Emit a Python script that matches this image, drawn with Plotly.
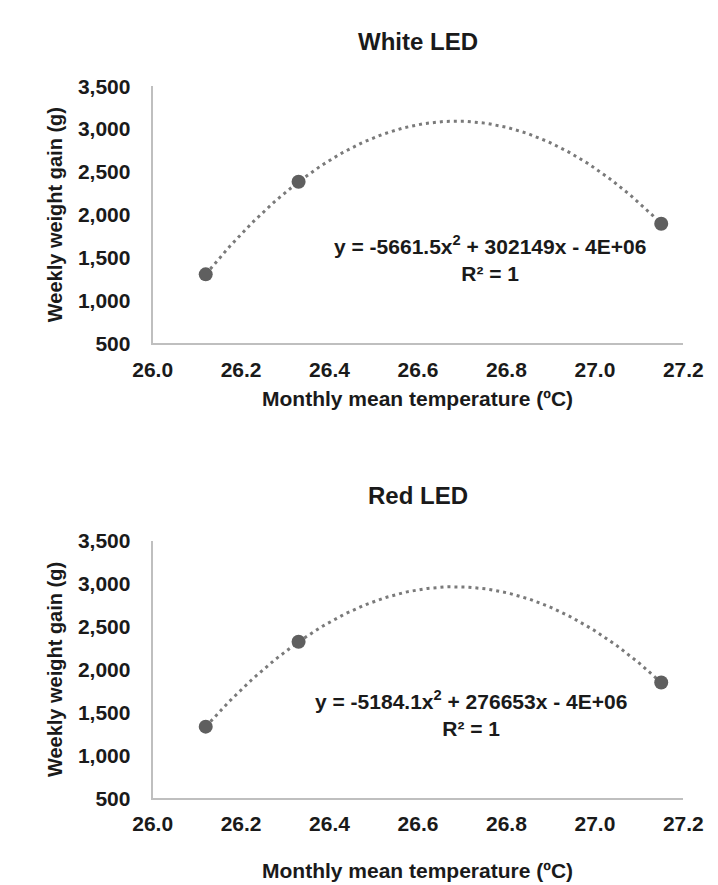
import numpy as np
import plotly.graph_objects as go

# ---- data ----
temperature = [26.12, 26.33, 27.15]
white_gain = [1305, 2385, 1895]
red_gain = [1335, 2325, 1850]

titles = ["White LED", "Red LED"]
equations = ["y = -5661.5x<sup>2</sup> + 302149x - 4E+06<br>R² = 1",
             "y = -5184.1x<sup>2</sup> + 276653x - 4E+06<br>R² = 1"]
x_title = "Monthly mean temperature (ºC)"
y_title = "Weekly weight gain (g)"

W, H = 718, 885
FONT = "Liberation Sans, Arial, sans-serif"
TXT = "#1a1a1a"
AXIS = "#bfbfbf"

fig = go.Figure()

x0_px, x1_px = 132, 694
panels = [
    dict(top=68, bottom=332, title_y=22, xt_y=389, eq=(26.762, 1493)),
    dict(top=535, bottom=799, title_y=488, xt_y=873, eq=(26.72, 1493)),
]
series = [white_gain, red_gain]

for i, (p, ys) in enumerate(zip(panels, series)):
    xa = "x" if i == 0 else "x2"
    ya = "y" if i == 0 else "y2"
    # quadratic trendline fitted to the three points
    coef = np.polyfit(temperature, ys, 2)
    xs = np.linspace(temperature[0], temperature[-1], 200)
    fig.add_trace(go.Scatter(x=xs, y=np.polyval(coef, xs), mode="lines",
                             line=dict(color="#7a7a7a", width=3, dash="3px,4px"),
                             xaxis=xa, yaxis=ya, showlegend=False, hoverinfo="skip"))
    fig.add_trace(go.Scatter(x=temperature, y=ys, mode="markers",
                             marker=dict(color="#5f5f5f", size=14),
                             xaxis=xa, yaxis=ya, showlegend=False))

    dom_y = [1 - p["bottom"] / H, 1 - p["top"] / H]
    axkey = "" if i == 0 else "2"
    fig.update_layout(**{
        "xaxis" + axkey: dict(domain=[x0_px / W, x1_px / W], range=[26.0, 27.2], dtick=0.2,
                              tickformat=".1f", showgrid=False, zeroline=False,
                              showline=True, linecolor=AXIS, linewidth=2, ticks="",
                              tickfont=dict(family=FONT, size=21, color=TXT, weight="bold"),
                              ticklabelstandoff=6, anchor=ya, fixedrange=True),
        "yaxis" + axkey: dict(domain=dom_y, range=[500, 3500], dtick=500, tickformat=",",
                              showgrid=False, zeroline=False, showline=True,
                              linecolor=AXIS, linewidth=2, ticks="",
                              tickfont=dict(family=FONT, size=21, color=TXT, weight="bold"),
                              ticklabelstandoff=16, anchor=xa, fixedrange=True),
    })
    fig.add_annotation(text="<b>" + titles[i] + "</b>", x=(x0_px + x1_px) / 2 / W,
                       y=1 - p["title_y"] / H, xref="paper", yref="paper",
                       showarrow=False, font=dict(family=FONT, size=24, color=TXT),
                       xanchor="center", yanchor="middle")
    fig.add_annotation(text="<b>" + x_title + "</b>", x=(x0_px + x1_px) / 2 / W,
                       y=1 - p["xt_y"] / H, xref="paper", yref="paper",
                       showarrow=False, font=dict(family=FONT, size=21, color=TXT),
                       xanchor="center", yanchor="middle")
    fig.add_annotation(text="<b>" + y_title + "</b>", x=28 / W,
                       y=1 - (p["top"] + p["bottom"]) / 2 / H, xref="paper", yref="paper",
                       showarrow=False, textangle=-90,
                       font=dict(family=FONT, size=20, color=TXT),
                       xanchor="center", yanchor="middle")
    fig.add_annotation(text="<b>" + equations[i] + "</b>", x=p["eq"][0], y=p["eq"][1],
                       xref=xa, yref=ya, showarrow=False, align="center",
                       font=dict(family=FONT, size=21, color=TXT),
                       xanchor="center", yanchor="middle")

fig.update_layout(width=W, height=H, margin=dict(l=0, r=0, t=0, b=0),
                  paper_bgcolor="white", plot_bgcolor="white",
                  font=dict(family=FONT, color=TXT))

fig.write_html("out.html")
